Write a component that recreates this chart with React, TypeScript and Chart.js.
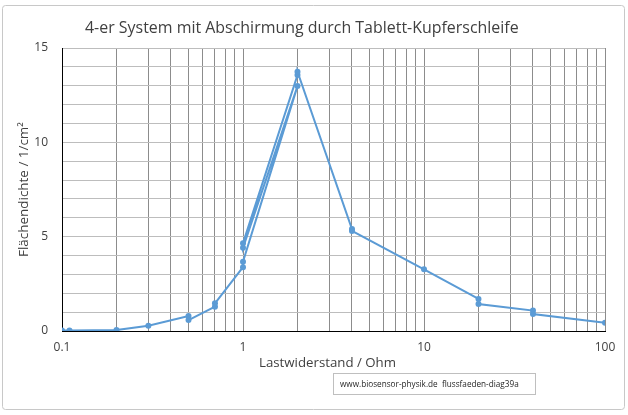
import React, { useEffect, useRef } from 'react';
import { Chart, registerables } from 'chart.js';

Chart.register(...registerables);

const chartTitle = '4-er System mit Abschirmung durch Tablett-Kupferschleife';
const xAxisTitle = 'Lastwiderstand / Ohm';
const yAxisTitle = 'Flächendichte / 1/cm²';
const watermark = 'www.biosensor-physik.de  flussfaeden-diag39a';

// measurement points in recorded order (x: load resistance in Ohm, y: density)
const resistance = [0.1, 0.11, 0.2, 0.3, 0.5, 0.5, 0.7, 0.7, 1, 1, 2, 1, 1, 2, 2, 4, 4, 10, 20, 20, 40, 40, 100];
const density = [0.02, 0.03, 0.05, 0.28, 0.8, 0.58, 1.29, 1.47, 3.38, 3.67, 12.98, 4.41, 4.65, 13.57, 13.74, 5.4, 5.3, 3.27, 1.7, 1.43, 1.08, 0.9, 0.44];

const xGridValues = [
  0.1, 0.2, 0.3, 0.4, 0.5, 0.6, 0.7, 0.8, 0.9,
  1, 2, 3, 4, 5, 6, 7, 8, 9,
  10, 20, 30, 40, 50, 60, 70, 80, 90,
  100,
];
const xLabelValues = [0.1, 1, 10, 100];
const xLabelTexts = ['0.1', '1', '10', '100'];
const yLabelValues = [0, 5, 10, 15];
const yMin = 0;
const yMax = 15;

const FONT = '"Open Sans", sans-serif';
const SERIES_COLOR = '#5b9bd5';
const TEXT_COLOR = '#404040';

function fitText(ctx: CanvasRenderingContext2D, text: string, x: number, y: number, width: number) {
  ctx.font = `100px ${FONT}`;
  const w = ctx.measureText(text).width;
  const size = (100 * width) / w;
  ctx.font = `${size}px ${FONT}`;
  ctx.fillText(text, x, y);
}

const decorPlugin = {
  id: 'decor',
  beforeDraw(chart: any) {
    const ctx: CanvasRenderingContext2D = chart.ctx;
    ctx.save();
    ctx.fillStyle = '#ffffff';
    ctx.fillRect(0, 0, chart.width, chart.height);
    ctx.strokeStyle = '#c8c8c8';
    ctx.lineWidth = 1;
    ctx.beginPath();
    (ctx as any).roundRect(2.5, 5.5, 622, 404, 3);
    ctx.stroke();
    ctx.restore();
  },
  afterDraw(chart: any) {
    const ctx: CanvasRenderingContext2D = chart.ctx;
    const area = chart.chartArea;
    ctx.save();
    ctx.fillStyle = TEXT_COLOR;
    // chart title
    ctx.textAlign = 'left';
    ctx.textBaseline = 'alphabetic';
    fitText(ctx, chartTitle, 85, 33, 434);
    // x axis title
    ctx.textAlign = 'center';
    fitText(ctx, xAxisTitle, 327.5, 367, 137);
    // y axis title
    ctx.save();
    ctx.translate(28, (area.top + area.bottom) / 2);
    ctx.rotate(-Math.PI / 2);
    ctx.textAlign = 'center';
    ctx.textBaseline = 'alphabetic';
    fitText(ctx, yAxisTitle, 0, 0, 135);
    ctx.restore();
    // watermark box
    ctx.fillStyle = '#ffffff';
    ctx.fillRect(333.5, 373.5, 202, 21);
    ctx.strokeStyle = '#bfbfbf';
    ctx.lineWidth = 1;
    ctx.strokeRect(333.5, 373.5, 202, 21);
    ctx.fillStyle = '#262626';
    ctx.textAlign = 'left';
    ctx.textBaseline = 'middle';
    fitText(ctx, watermark, 340, 384.5, 179);
    ctx.restore();
  },
};

export default function App() {
  const canvasRef = useRef<HTMLCanvasElement | null>(null);

  useEffect(() => {
    document.body.style.margin = '0';
    const canvas = canvasRef.current;
    if (!canvas) return;
    const points = resistance.map((x, i) => ({ x, y: density[i] }));
    const chart = new Chart(canvas, {
      type: 'scatter',
      data: {
        datasets: [
          {
            data: points,
            showLine: true,
            borderColor: SERIES_COLOR,
            backgroundColor: SERIES_COLOR,
            borderWidth: 2,
            pointRadius: 3,
            pointBorderWidth: 0,
            pointBackgroundColor: SERIES_COLOR,
            tension: 0,
          },
        ],
      },
      options: {
        responsive: false,
        animation: false,
        layout: { padding: { left: 0, right: 23, top: 48, bottom: 0 } },
        plugins: {
          legend: { display: false },
          title: { display: false },
          tooltip: { enabled: false },
        },
        scales: {
          x: {
            type: 'logarithmic',
            min: xLabelValues[0],
            max: xLabelValues[xLabelValues.length - 1],
            afterBuildTicks: (scale: any) => {
              scale.ticks = xGridValues.map((v) => ({ value: v }));
            },
            afterFit: (scale: any) => {
              scale.height = 84;
            },
            ticks: {
              autoSkip: false,
              maxRotation: 0,
              padding: 9,
              color: TEXT_COLOR,
              font: { family: FONT, size: 12 },
              callback: (value: any) => {
                const idx = xLabelValues.findIndex((v) => Math.abs(v - Number(value)) < 1e-9);
                return idx >= 0 ? xLabelTexts[idx] : '';
              },
            },
            grid: { color: '#8c8c8c', lineWidth: 1, drawTicks: false },
            border: { display: true, color: '#000000', width: 1 },
          },
          y: {
            type: 'linear',
            min: yMin,
            max: yMax,
            afterFit: (scale: any) => {
              scale.width = 62;
            },
            ticks: {
              stepSize: 1,
              autoSkip: false,
              padding: 14,
              color: TEXT_COLOR,
              font: { family: FONT, size: 12 },
              callback: (value: any) => (yLabelValues.includes(Number(value)) ? String(value) : ''),
            },
            grid: { color: '#bdbdbd', lineWidth: 1, drawTicks: false },
            border: { display: true, color: '#000000', width: 1 },
          },
        },
      },
      plugins: [decorPlugin],
    } as any);
    return () => chart.destroy();
  }, []);

  return (
    <div style={{ position: 'absolute', left: 0, top: 0, width: 628, height: 415 }}>
      <canvas ref={canvasRef} width={628} height={415} />
    </div>
  );
}
